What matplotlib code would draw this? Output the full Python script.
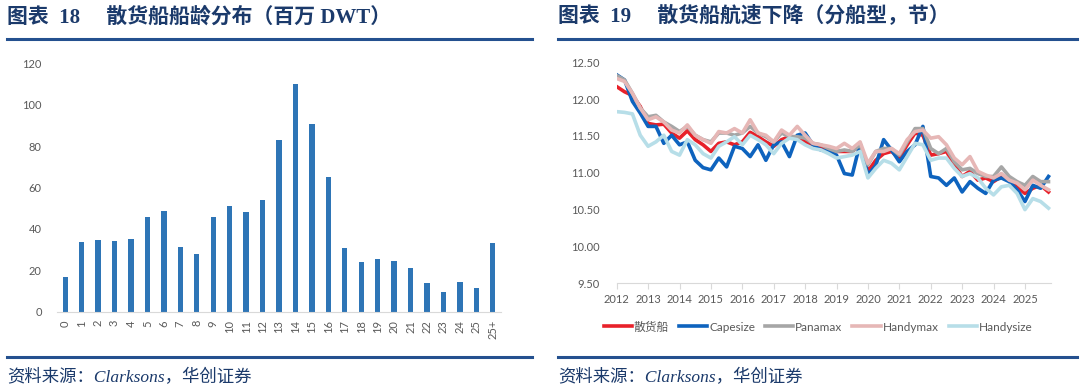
import numpy as np
import matplotlib
matplotlib.use("Agg")
import matplotlib.pyplot as plt
from matplotlib.lines import Line2D

plt.rcParams['font.family'] = ['Lato', 'Noto Sans CJK SC', 'DejaVu Sans']

# ---- data: fleet age distribution (mn DWT)
age_labels = [str(i) for i in range(26)] + ['25+']
age_dwt = [16.6, 33.8, 34.8, 34.1, 34.9, 45.6, 48.5, 31.2, 27.9, 45.9,
           50.9, 48.3, 53.9, 83.1, 109.8, 90.7, 65.2, 30.9, 24.2, 25.4,
           24.6, 21.3, 13.8, 9.3, 14.3, 11.6, 33.3]

# ---- data: bulk carrier speed by ship type (knots), quarterly 2012Q1-2025Q4
quarters = [2012 + q / 4 for q in range(56)]
bulk = [12.17, 12.10, 12.05, 11.90, 11.67, 11.65, 11.66, 11.54,
        11.47, 11.57, 11.45, 11.38, 11.29, 11.40, 11.42, 11.38,
        11.42, 11.55, 11.49, 11.42, 11.36, 11.45, 11.49, 11.49,
        11.42, 11.38, 11.36, 11.31, 11.29, 11.29, 11.29, 11.38,
        11.02, 11.17, 11.26, 11.29, 11.20, 11.38, 11.54, 11.51,
        11.24, 11.26, 11.29, 11.11, 10.95, 11.02, 10.90, 10.93,
        10.88, 10.95, 10.90, 10.81, 10.72, 10.79, 10.83, 10.74]
capesize = [12.33, 12.26, 11.97, 11.81, 11.63, 11.63, 11.40, 11.51,
            11.38, 11.42, 11.17, 11.07, 11.04, 11.20, 11.08, 11.36,
            11.33, 11.22, 11.38, 11.17, 11.38, 11.42, 11.22, 11.51,
            11.54, 11.38, 11.31, 11.29, 11.24, 10.99, 10.97, 11.40,
            10.97, 11.10, 11.45, 11.31, 11.15, 11.29, 11.38, 11.63,
            10.95, 10.93, 10.83, 10.93, 10.74, 10.88, 10.79, 10.72,
            10.90, 10.93, 10.88, 10.77, 10.61, 10.83, 10.79, 10.95]
panamax = [12.32, 12.26, 12.08, 11.88, 11.76, 11.78, 11.69, 11.63,
           11.56, 11.63, 11.51, 11.45, 11.42, 11.54, 11.54, 11.51,
           11.54, 11.63, 11.54, 11.49, 11.42, 11.54, 11.49, 11.49,
           11.47, 11.40, 11.38, 11.33, 11.29, 11.31, 11.29, 11.38,
           11.11, 11.29, 11.33, 11.33, 11.24, 11.42, 11.60, 11.60,
           11.33, 11.26, 11.33, 11.15, 11.04, 11.06, 10.99, 10.95,
           10.95, 11.08, 10.95, 10.88, 10.83, 10.95, 10.88, 10.88]
handymax = [12.28, 12.24, 12.08, 11.88, 11.72, 11.76, 11.69, 11.58,
            11.54, 11.65, 11.51, 11.45, 11.40, 11.56, 11.54, 11.60,
            11.54, 11.72, 11.54, 11.51, 11.42, 11.58, 11.51, 11.63,
            11.51, 11.40, 11.38, 11.36, 11.33, 11.40, 11.33, 11.42,
            11.13, 11.29, 11.29, 11.33, 11.26, 11.45, 11.56, 11.58,
            11.47, 11.49, 11.38, 11.20, 11.11, 11.22, 11.02, 10.97,
            10.93, 10.99, 10.90, 10.86, 10.77, 10.90, 10.83, 10.77]
handysize = [11.83, 11.82, 11.80, 11.51, 11.36, 11.42, 11.51, 11.29,
             11.24, 11.45, 11.38, 11.26, 11.20, 11.36, 11.42, 11.49,
             11.38, 11.51, 11.45, 11.38, 11.26, 11.40, 11.47, 11.45,
             11.38, 11.33, 11.31, 11.26, 11.20, 11.22, 11.24, 11.29,
             10.93, 11.06, 11.17, 11.13, 11.04, 11.22, 11.40, 11.38,
             11.17, 11.20, 11.20, 11.06, 10.95, 10.99, 10.93, 10.79,
             10.70, 10.81, 10.83, 10.72, 10.50, 10.65, 10.61, 10.52]
series_names = ['散货船', 'Capesize', 'Panamax', 'Handymax', 'Handysize']
series_colors = ['#E8212A', '#0E63BE', '#A6A6A6', '#E6B7B6', '#B7DEE8']

W, H = 1080, 390
fig = plt.figure(figsize=(W / 100, H / 100), dpi=100)


def px_axes(x0, y0, x1, y1):
    # pixel box (top-left origin) -> figure axes
    return fig.add_axes([x0 / W, 1 - y1 / H, (x1 - x0) / W, (y1 - y0) / H])


navy = '#1B3A6B'
rule = '#24508F'
tick_grey = '#595959'
title_font = ['Liberation Serif', 'Noto Sans CJK SC']

# titles, rules and source lines
for x0, x1, title in [(7, 532, '图表  18     散货船船龄分布（百万 DWT）'),
                      (558, 1077, '图表  19     散货船航速下降（分船型，节）')]:
    fig.text(x0 / W, 1 - 17 / H, title, family=title_font, fontsize=15,
             fontweight='bold', color=navy, va='center', ha='left')
    fig.add_artist(Line2D([x0 / W, x1 / W], [1 - 39 / H] * 2, color=rule, lw=2.2))
    fig.add_artist(Line2D([x0 / W, x1 / W], [1 - 357 / H] * 2, color=rule, lw=2.2))
    fig.text(x0 / W, 1 - 378 / H, '资料来源：Clarksons，华创证券', family=title_font,
             fontsize=12.5, style='italic', color=navy, va='center', ha='left')

# ---- left: bars
ax1 = px_axes(57, 63.3, 501, 311.7)
xpos = np.arange(len(age_dwt))
ax1.bar(xpos, age_dwt, width=0.33, color='#2E75B6')
ax1.set_xlim(-0.5, len(age_dwt) - 0.5)
ax1.set_ylim(0, 120)
ax1.set_yticks(range(0, 121, 20))
ax1.set_xticks(xpos)
ax1.set_xticklabels(age_labels, rotation=90)
ax1.tick_params(axis='both', length=0, labelsize=8, colors=tick_grey)
ax1.tick_params(axis='y', pad=11)
ax1.tick_params(axis='x', pad=6)
for s in ['top', 'right', 'left']:
    ax1.spines[s].set_visible(False)
ax1.spines['bottom'].set_color('#D9D9D9')

# ---- right: speed lines
ax2 = px_axes(616.7, 62.3, 1050.7, 283.3)
all_series = [bulk, capesize, panamax, handymax, handysize]
handles = []
for vals, name, col in zip(all_series, series_names, series_colors):
    ln, = ax2.plot(quarters, vals, color=col, lw=2.6, label=name,
                   solid_joinstyle='round')
    handles.append(ln)
ax2.set_xlim(2012, 2025.82)
ax2.set_ylim(9.5, 12.5)
ax2.set_yticks(np.arange(9.5, 12.51, 0.5))
ax2.set_yticklabels(['%.2f' % v for v in np.arange(9.5, 12.51, 0.5)])
ax2.set_xticks(range(2012, 2026))
ax2.tick_params(axis='y', length=0, labelsize=8, colors=tick_grey, pad=12)
ax2.tick_params(axis='x', length=4, labelsize=8, colors=tick_grey, color='#D9D9D9', pad=4)
for s in ['top', 'right', 'left']:
    ax2.spines[s].set_visible(False)
ax2.spines['bottom'].set_color('#D9D9D9')

fig.legend(handles=handles, loc='center', bbox_to_anchor=(818 / W, 1 - 327 / H),
           ncol=5, frameon=False, fontsize=8.5, handlelength=2.4, handletextpad=0.15,
           columnspacing=0.85, labelcolor=tick_grey)

fig.savefig('out.png', dpi=100)
